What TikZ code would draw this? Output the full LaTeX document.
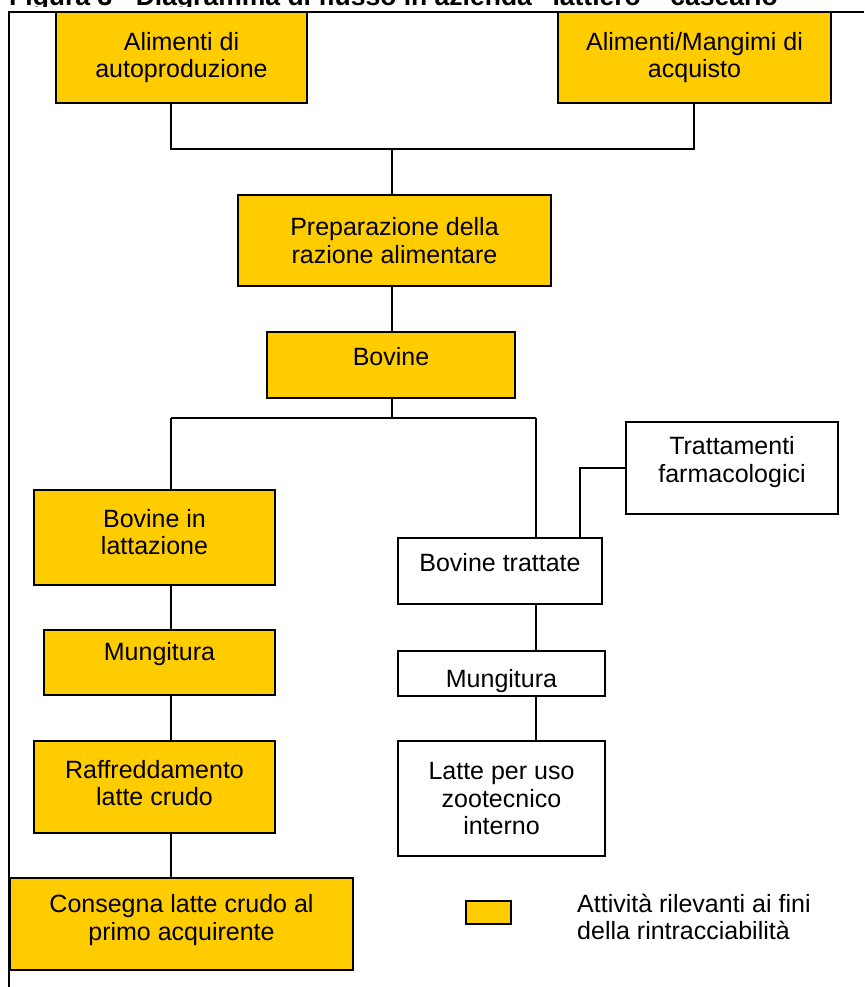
\documentclass[tikz,border=0pt]{standalone}
\usepackage{fontspec}
\setmainfont{Liberation Sans}
\definecolor{boxyellow}{HTML}{FFCC00}
\begin{document}
\begin{tikzpicture}[x=1pt,y=-1pt,
  every node/.style={font=\fontsize{25}{27.5}\selectfont, align=center, inner sep=0pt},
  ybox/.style={draw=black, line width=1.6pt, fill=boxyellow, rectangle},
  wbox/.style={draw=black, line width=1.6pt, fill=white, rectangle},
  conn/.style={draw=black, line width=1.5pt},
  frameline/.style={draw=black, line width=1.6pt}]
\useasboundingbox (0,0) rectangle (864,987);
% title (cut off at the top)
\begin{scope}
  \clip (0,0) rectangle (864,6.5);
  \node[anchor=base west, font=\fontsize{26.5}{28}\selectfont\bfseries] (title) at (9,5.5) {Figura 3 - Diagramma di flusso in azienda “lattiero – caseario”};
\end{scope}
% frame
\draw[frameline] (864,12) -- (9,12) -- (9,987);
% boxes
\node[ybox, minimum width=251pt, minimum height=91pt] (b1) at (181.5,57.5) {Alimenti di\\autoproduzione};
\node[ybox, minimum width=273pt, minimum height=91pt] (b2) at (694.5,57.5) {Alimenti/Mangimi di\\acquisto};
\node[ybox, minimum width=313pt, minimum height=91pt] (b3) at (394.5,240.5) {Preparazione della\\razione alimentare};
\node[ybox, minimum width=248pt, minimum height=66pt] (b4) at (391,365) {};
\node (b4t) at (391,357) {Bovine};
\node[ybox, minimum width=241pt, minimum height=95pt] (b5) at (154.5,537.5) {};
\node (b5t) at (154.5,532) {Bovine in\\lattazione};
\node[ybox, minimum width=231pt, minimum height=65pt] (b6) at (159.5,662.5) {};
\node (b6t) at (159.5,654) {Mungitura};
\node[ybox, minimum width=241pt, minimum height=92pt] (b7) at (154.5,787) {};
\node (b7t) at (154.5,783) {Raffreddamento\\latte crudo};
\node[ybox, minimum width=343pt, minimum height=92pt] (b8) at (181.5,924) {};
\node (b8t) at (181.5,920) {Consegna latte crudo al\\primo acquirente};
\node[wbox, minimum width=212pt, minimum height=92pt] (t1) at (732,468) {};
\node (t1t) at (732,462) {Trattamenti\\farmacologici};
\node[wbox, minimum width=204pt, minimum height=66pt] (t2) at (500,571) {};
\node (t2t) at (500,563) {Bovine trattate};
\node[wbox, minimum width=207pt, minimum height=45pt] (t3) at (501.5,673.5) {};
\begin{scope}
  \clip (t3.north west) rectangle (t3.south east);
  \node[anchor=base] (t3t) at (501.5,687) {Mungitura};
\end{scope}
\draw[line width=1.2pt] (t3.north west) rectangle (t3.south east);
\node[wbox, minimum width=207pt, minimum height=115pt] (t4) at (501.5,798.5) {};
\node (t4t) at (501.5,799) {Latte per uso\\zootecnico\\interno};
% legend
\node[ybox, minimum width=45pt, minimum height=23pt] (leg) at (488.5,912.5) {};
\node[align=left, anchor=west] (legt) at (577,917) {Attività rilevanti ai fini\\della rintracciabilità};
% junction coordinates
\coordinate (j1) at (392,149);
\coordinate (b3n) at (392,195);
\coordinate (b3s) at (392,286);
\coordinate (b4n) at (392,332);
\coordinate (b4s) at (392,398);
\coordinate (j2) at (392,418);
\coordinate (c1) at (171,103);
\coordinate (c2) at (694,103);
\coordinate (l5) at (171,418);
\coordinate (r5) at (536,418);
\coordinate (b5n) at (171,490);
\coordinate (b5s) at (171,585);
\coordinate (b6n) at (171,630);
\coordinate (b6s) at (171,695);
\coordinate (b7n) at (171,741);
\coordinate (b7s) at (171,833);
\coordinate (b8n) at (171,878);
\coordinate (t2n) at (536,538);
\coordinate (t2s) at (536,604);
\coordinate (t3n) at (536,651);
\coordinate (t3s) at (536,696);
\coordinate (t4n) at (536,741);
\coordinate (t2n2) at (580,538);
\coordinate (t1k) at (580,468);
% connectors
\draw[conn] (c1) |- (j1) -| (c2);
\draw[conn] (j1) -- (b3n);
\draw[conn] (b3s) -- (b4n);
\draw[conn] (b4s) -- (j2);
\draw[conn] (l5) -- (r5);
\draw[conn] (l5) -- (b5n);
\draw[conn] (r5) -- (t2n);
\draw[conn] (t1.west) -- (t1k) -- (t2n2);
\draw[conn] (b5s) -- (b6n);
\draw[conn] (b6s) -- (b7n);
\draw[conn] (b7s) -- (b8n);
\draw[conn] (t2s) -- (t3n);
\draw[conn] (t3s) -- (t4n);
\end{tikzpicture}
\end{document}
